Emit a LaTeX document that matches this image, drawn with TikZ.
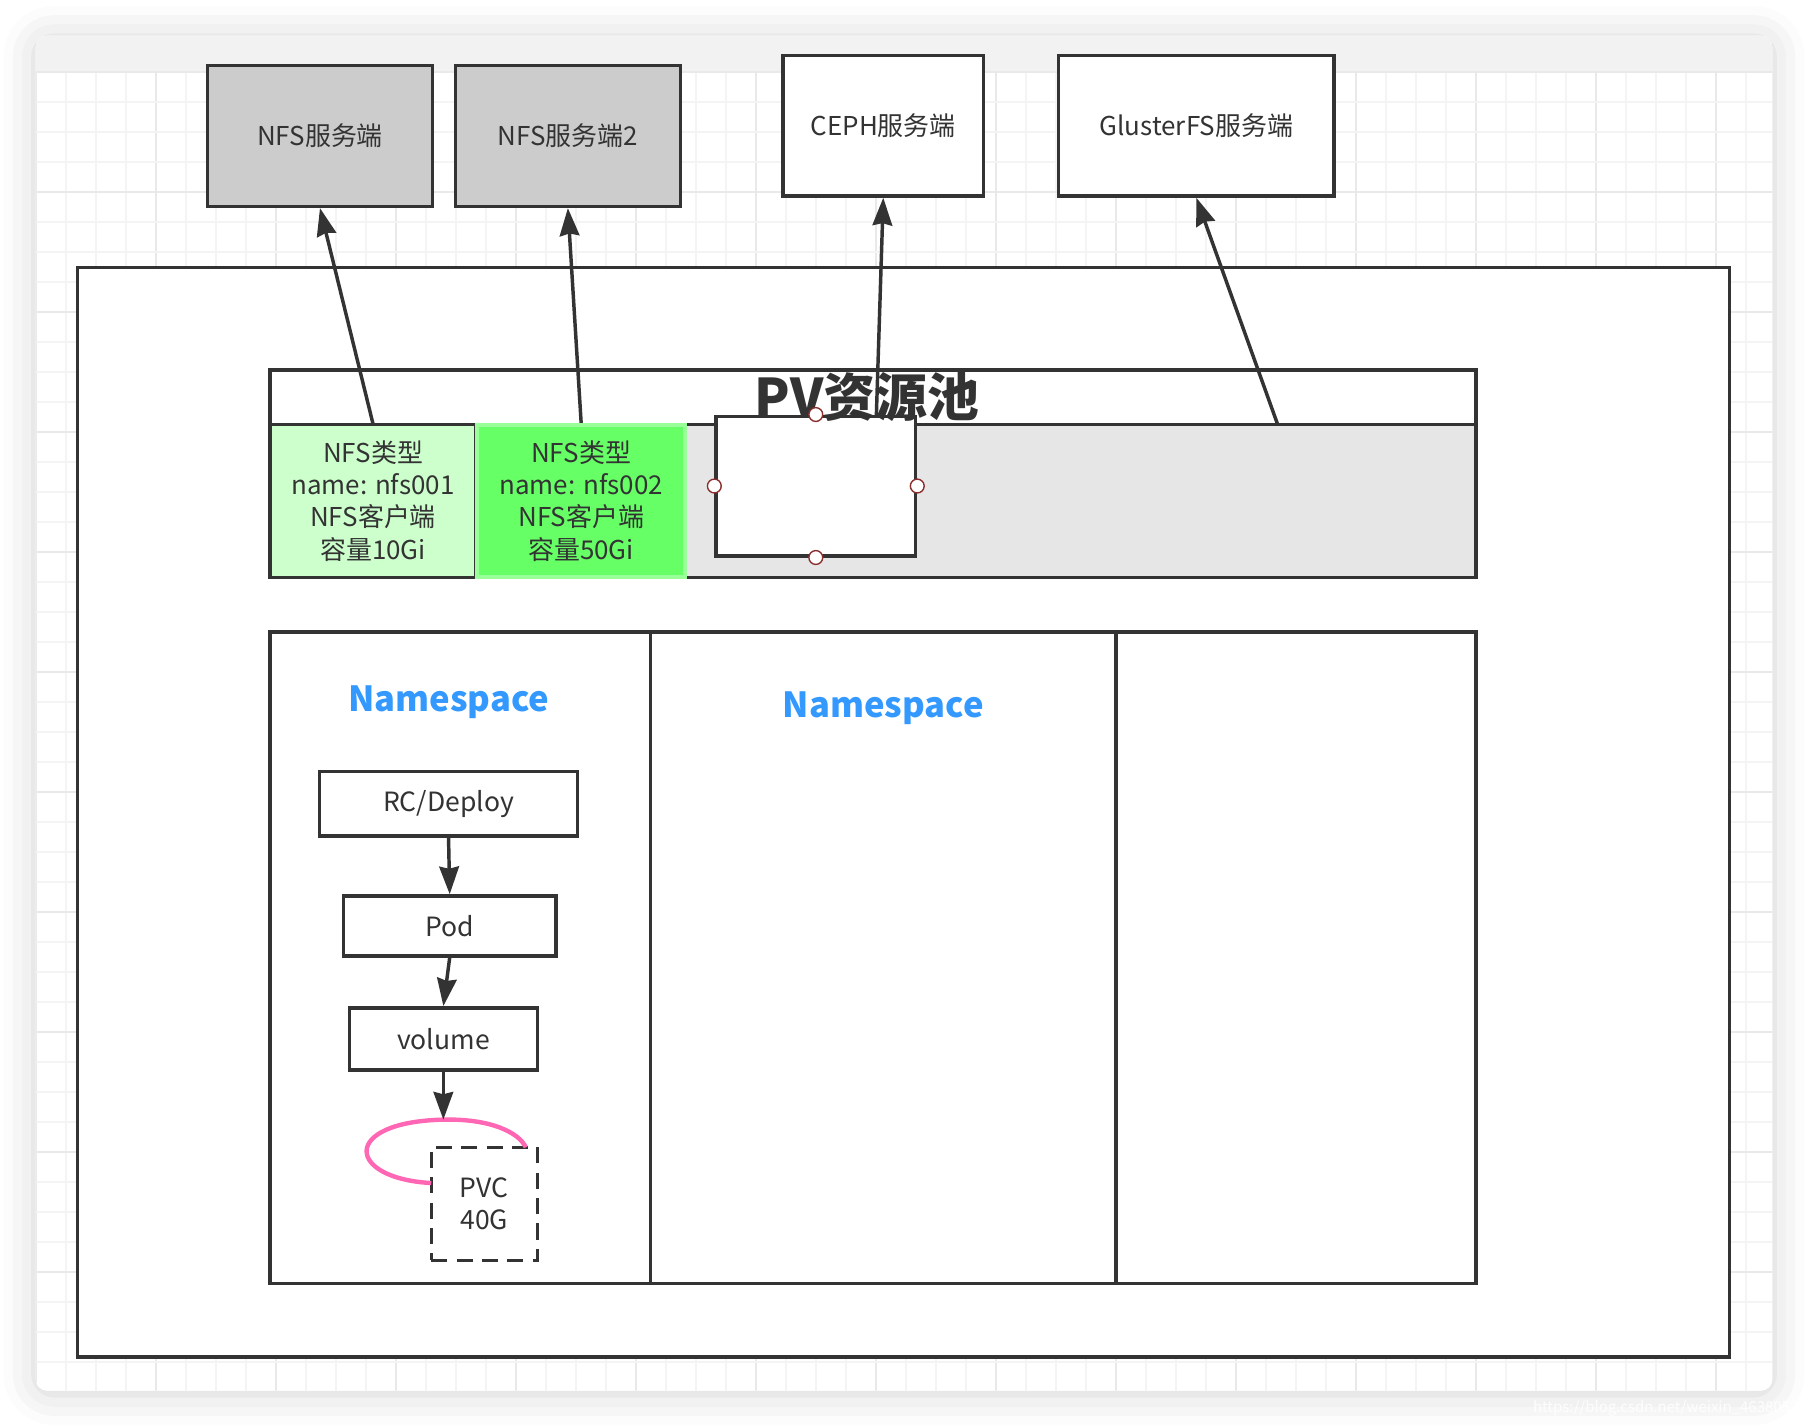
\documentclass[tikz,border=0pt]{standalone}
\usepackage{fontspec}
\setmainfont{Noto Sans CJK SC}
\usetikzlibrary{arrows.meta,shadows.blur,calc}
\definecolor{ln}{HTML}{333333}
\definecolor{gridminor}{HTML}{F4F4F4}
\definecolor{gridmajor}{HTML}{E9E9E9}
\definecolor{topbar}{HTML}{F2F2F2}
\definecolor{srvgray}{HTML}{CCCCCC}
\definecolor{poolgray}{HTML}{E6E6E6}
\definecolor{lightgreen}{HTML}{CCFFCC}
\definecolor{midgreen}{HTML}{66FF66}
\definecolor{greenedge}{HTML}{99FF99}
\definecolor{nsblue}{HTML}{3399FF}
\definecolor{pink}{HTML}{FF66B3}
\definecolor{handle}{HTML}{8B2E2E}
\tikzset{
  box/.style={draw=ln, line width=1.5pt, rectangle, inner sep=0pt, align=center, text=ln},
  srv/.style={box, font=\fontsize{11.25pt}{14pt}\selectfont},
  cell/.style={rectangle, inner sep=0pt, align=center, text=ln, font=\fontsize{11.25pt}{14pt}\selectfont},
  flow/.style={box, fill=white, font=\fontsize{11.5pt}{13.5pt}\selectfont},
  conn/.style={draw=ln, line width=1.5pt, -{Stealth[length=12pt,width=8.5pt,inset=1pt]}},
  hdl/.style={circle, draw=handle, line width=0.6pt, fill=white, minimum size=6pt, inner sep=0pt},
  nslabel/.style={text=nsblue, font=\fontsize{15pt}{18pt}\selectfont\bfseries}
}
\begin{document}
\begin{tikzpicture}[x=0.5pt,y=-0.5pt]
\useasboundingbox (0,0) rectangle (1568,1237);
% window with shadow
\fill[white, rounded corners=5pt, blur shadow={shadow xshift=0pt, shadow yshift=-1pt, shadow blur radius=14pt, shadow blur extra rounding=8pt, shadow opacity=18}] (31,31) rectangle (1537,1206);
\begin{scope}
  \clip[rounded corners=5pt] (31,31) rectangle (1537,1206);
  \fill[white] (31,31) rectangle (1537,1206);
  \fill[topbar] (31,31) rectangle (1537,62.4);
  \foreach \i in {0,...,57} {
    \pgfmathsetmacro{\xx}{31.2+26.02*\i}
    \pgfmathtruncatemacro{\mm}{mod(\i,4)}
    \ifnum\mm=0 \draw[gridmajor, line width=0.7pt] (\xx,62.4) -- (\xx,1206);
    \else \draw[gridminor, line width=0.7pt] (\xx,62.4) -- (\xx,1206); \fi
  }
  \foreach \j in {0,...,43} {
    \pgfmathsetmacro{\yy}{62.4+26.02*\j}
    \pgfmathtruncatemacro{\mm}{mod(\j,4)}
    \ifnum\mm=0 \draw[gridmajor, line width=0.7pt] (31,\yy) -- (1537,\yy);
    \else \draw[gridminor, line width=0.7pt] (31,\yy) -- (1537,\yy); \fi
  }
\end{scope}

% top servers
\node[srv, fill=srvgray, minimum width=97.5pt, minimum height=61pt] (nfs1) at (277.5,118) {NFS服务端};
\node[srv, fill=srvgray, minimum width=97.5pt, minimum height=61pt] (nfs2) at (492.5,118) {NFS服务端2};
\node[srv, fill=white, minimum width=87pt, minimum height=61pt] (ceph) at (766,109) {CEPH服务端};
\node[srv, fill=white, minimum width=119.5pt, minimum height=61pt] (gluster) at (1037.5,109) {GlusterFS服务端};

% outer box
\node[box, fill=white, minimum width=716.5pt, minimum height=472.5pt] (outer) at (783.5,704.5) {};

% PV pool
\node[box, fill=white, minimum width=523pt, minimum height=23.5pt] (poolhead) at (757,344.5) {};
\node[box, fill=poolgray, minimum width=523pt, minimum height=66.5pt] (poolbody) at (757,434.5) {};
\node[cell, fill=lightgreen, minimum width=89.5pt, minimum height=66.5pt] (cell1) at (323.5,434.5) {NFS类型\\name: nfs001\\NFS客户端\\容量10Gi};
\draw[ln, line width=1.5pt] (234,368) rectangle (413,501);
\node[cell, fill=midgreen, draw=greenedge, line width=1.8pt, minimum width=90pt, minimum height=66pt] (cell2) at (504,434.5) {NFS类型\\name: nfs002\\NFS客户端\\容量50Gi};
\node[box, fill=white, minimum width=86.5pt, minimum height=60.5pt] (wbox) at (707.5,421.5) {};
\node[text=ln, font=\fontsize{22.5pt}{24pt}\selectfont\bfseries, inner sep=0pt] (pvtitle) at (752,344) {PV资源池};
\node[hdl] (h1) at (wbox.north) {};
\node[hdl] (h2) at (wbox.south) {};
\node[hdl] (h3) at (wbox.west) {};
\node[hdl] (h4) at (wbox.east) {};

% connectors to servers
\coordinate (cephsrc) at (760,361);
\coordinate (glsrc) at (1108,368);
\draw[conn] (cell1.north) -- (nfs1.south);
\draw[conn] (cell2.north) -- (nfs2.south);
\draw[conn] (cephsrc) -- (ceph.south);
\draw[conn] (glsrc) -- (gluster.south);

% namespaces
\node[box, fill=white, minimum width=165pt, minimum height=282.5pt] (ns1) at (399,830.5) {};
\node[box, fill=white, minimum width=202pt, minimum height=282.5pt] (ns2) at (766,830.5) {};
\node[box, fill=white, minimum width=156pt, minimum height=282.5pt] (ns3) at (1124,830.5) {};
\node[nslabel] (nsl1) at (389,609) {Namespace};
\node[nslabel] (nsl2) at (766,614) {Namespace};

% flow
\node[flow, minimum width=112pt, minimum height=28pt] (rc) at (389,697) {RC/Deploy};
\node[flow, minimum width=92pt, minimum height=26pt] (pod) at (390,803) {Pod};
\node[flow, minimum width=81.5pt, minimum height=27pt] (vol) at (384.5,901) {volume};
\node[flow, dashed, dash pattern=on 7pt off 4pt, minimum width=46pt, minimum height=49pt] (pvc) at (420,1044) {PVC\\40G};
\coordinate (pinktop) at (384.5,971);
\draw[pink, line width=1.9pt] (374,1026) .. controls (300,1022) and (295,973) .. (pinktop) .. controls (425,970) and (450,982) .. (456,995);
\draw[conn] (rc.south) -- (pod.north);
\draw[conn] (pod.south) -- (vol.north);
\draw[conn] (vol.south) -- (pinktop);

% watermark
\node[anchor=east, text=white, opacity=0.85, font=\fontsize{6.5pt}{8pt}\selectfont, inner sep=0pt] (wm) at (1560,1221) {https://blog.csdn.net/weixin\_4638057};
\end{tikzpicture}
\end{document}
